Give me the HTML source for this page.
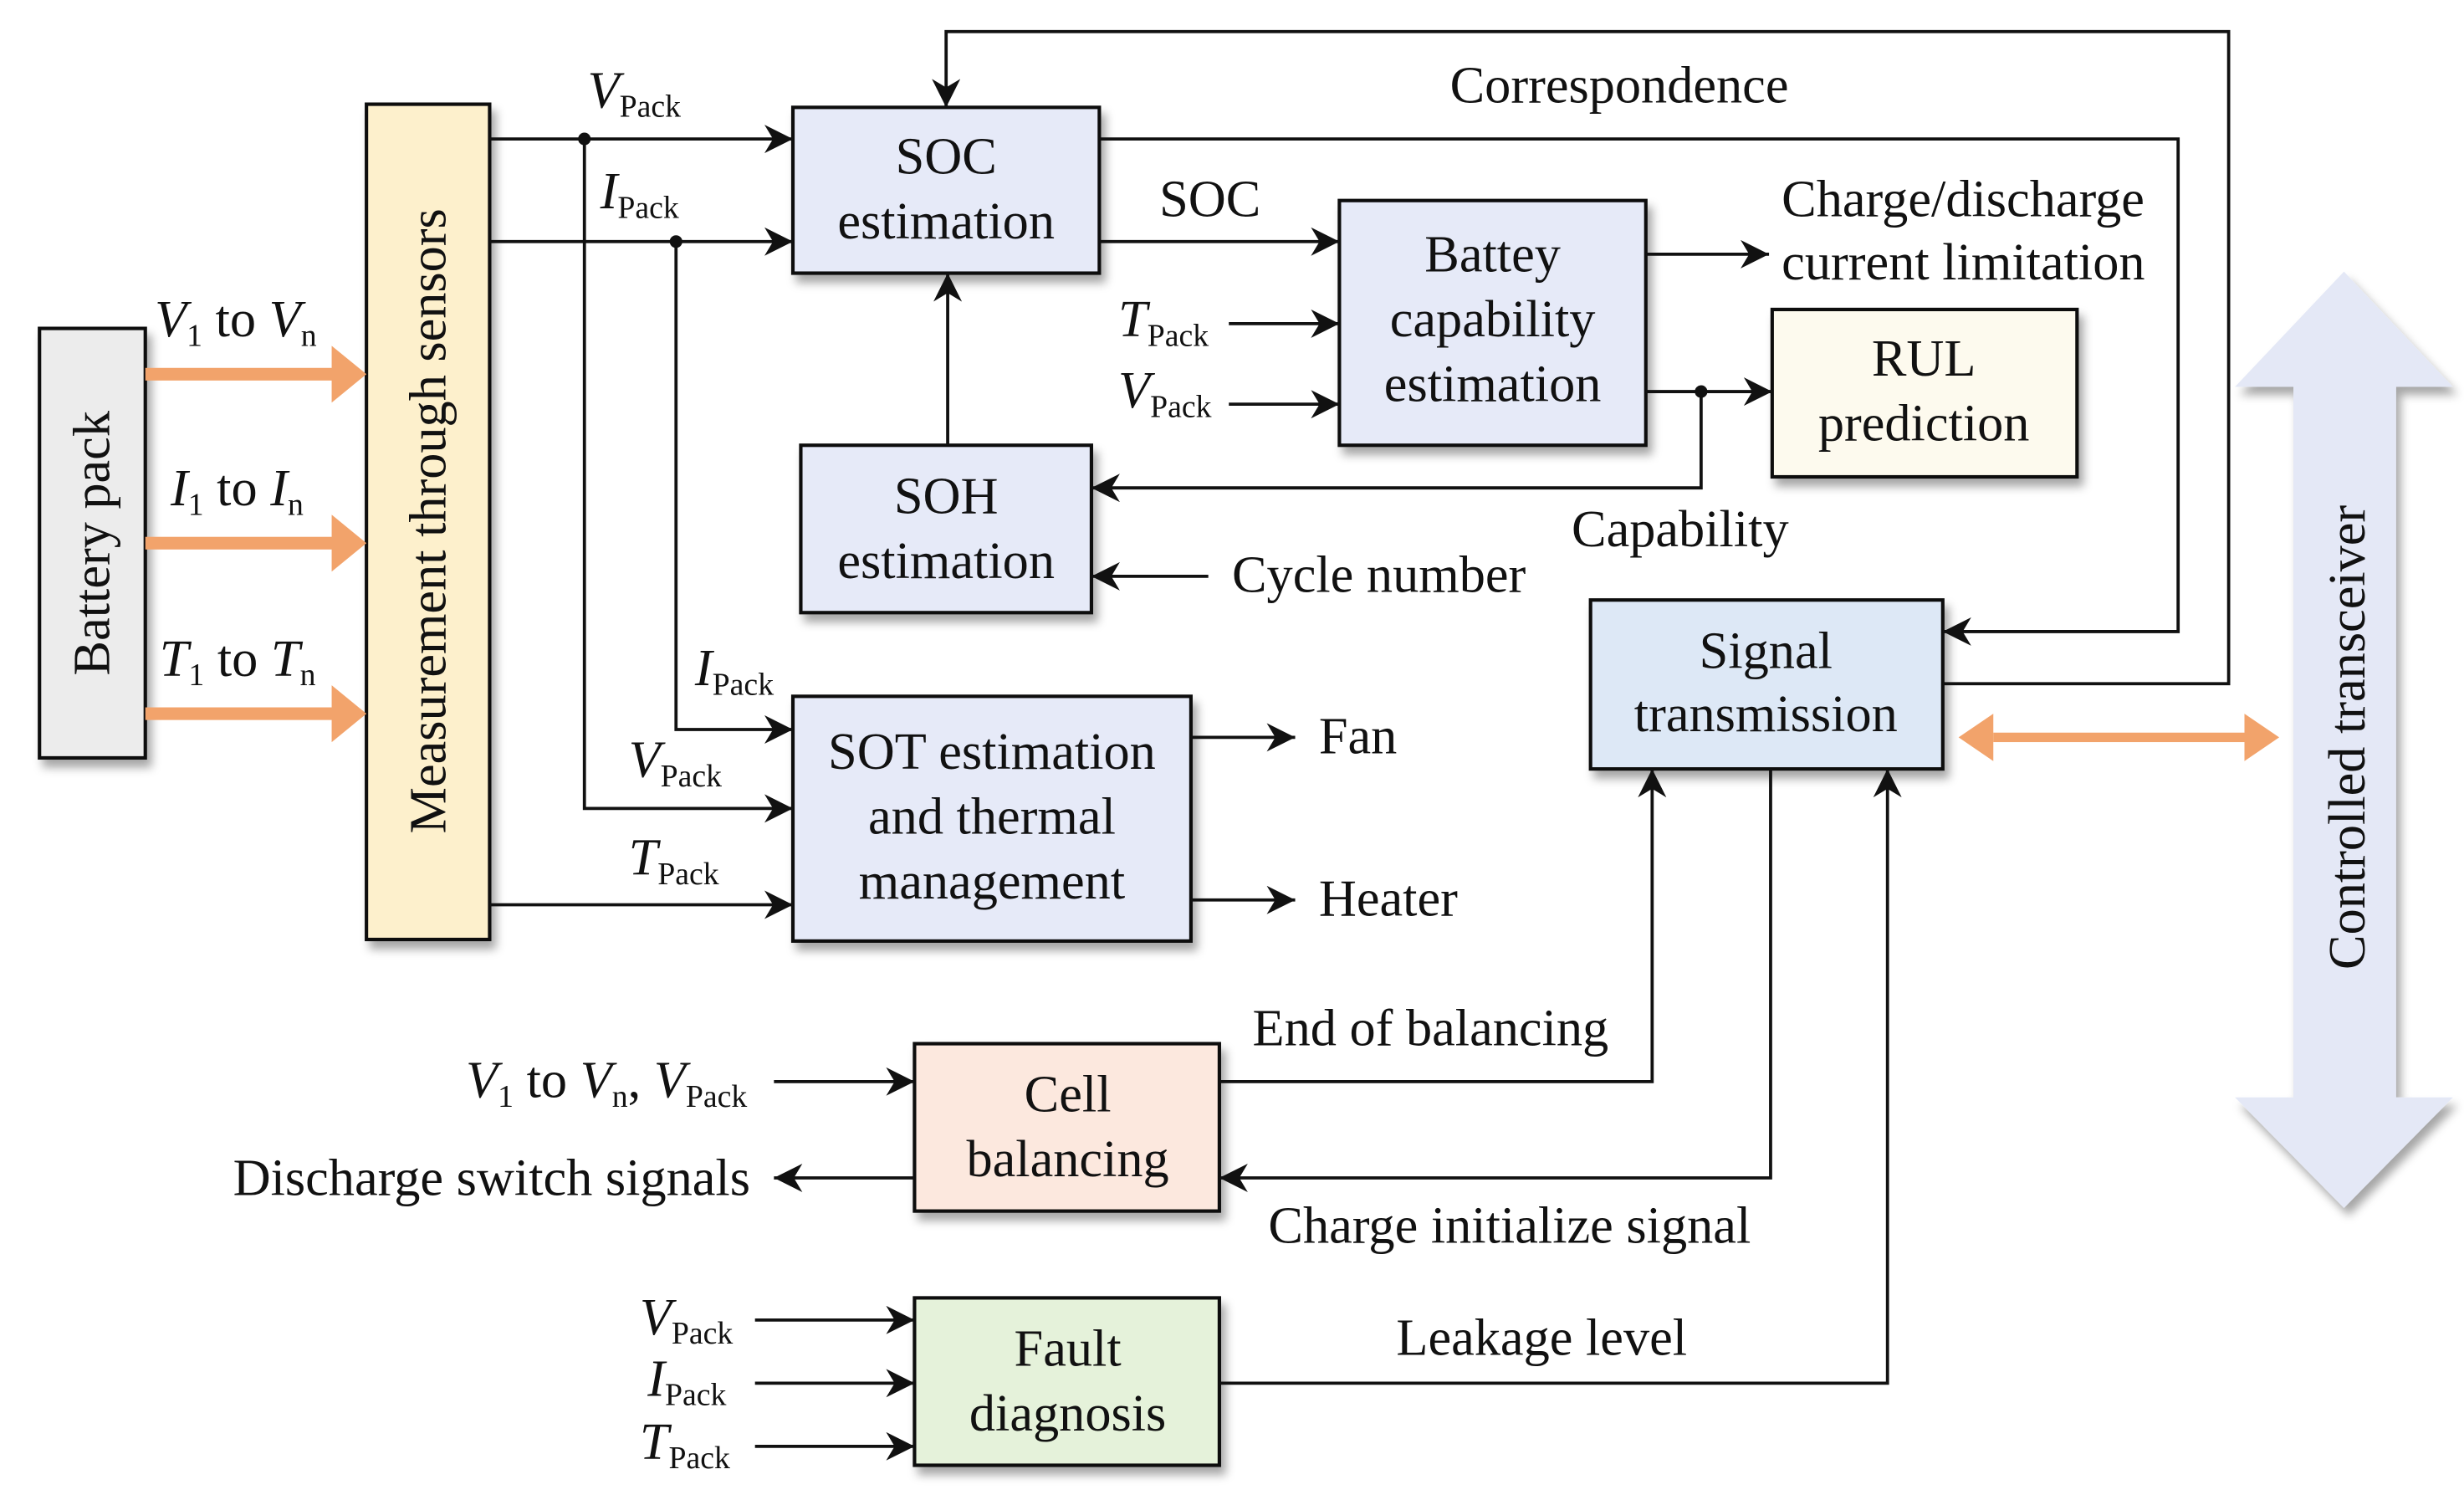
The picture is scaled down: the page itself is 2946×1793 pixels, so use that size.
<!DOCTYPE html>
<html><head><meta charset="utf-8"><style>
html,body{margin:0;padding:0;background:#fff;}
svg{display:block;}
svg text{font-family:"Liberation Serif","Times New Roman",Times,"DejaVu Serif",serif;fill:#111;}
</style></head><body>
<svg width="2946" height="1793" viewBox="0 0 1560 950" preserveAspectRatio="none" xmlns="http://www.w3.org/2000/svg" font-family="Liberation Serif, Times New Roman, DejaVu Serif, serif">
<defs>
<marker id="b" viewBox="0 0 10 10" refX="10" refY="5" markerWidth="18" markerHeight="18" markerUnits="userSpaceOnUse" orient="auto"><path d="M0,0 L10,5 L0,10 L3,5 z" fill="#111"/></marker>
<filter id="s" x="-10%" y="-10%" width="130%" height="130%"><feDropShadow dx="3" dy="5" stdDeviation="3" flood-color="#000" flood-opacity="0.35"/></filter>
</defs>
<g stroke="#111" stroke-width="2.2">
<rect x="25" y="208" width="67" height="272" fill="#ececec" filter="url(#s)"/>
<rect x="232" y="66" width="78" height="529" fill="#fdf0cc" filter="url(#s)"/>
<rect x="502" y="68" width="194" height="105" fill="#e6eaf8" filter="url(#s)"/>
<rect x="507" y="282" width="184" height="106" fill="#e6eaf8" filter="url(#s)"/>
<rect x="848" y="127" width="194" height="155" fill="#e6eaf8" filter="url(#s)"/>
<rect x="1122" y="196" width="193" height="106" fill="#fdfaee" filter="url(#s)"/>
<rect x="502" y="441" width="252" height="155" fill="#e6eaf8" filter="url(#s)"/>
<rect x="1007" y="380" width="223" height="107" fill="#dde8f6" filter="url(#s)"/>
<rect x="579" y="661" width="193" height="106" fill="#fce8de" filter="url(#s)"/>
<rect x="579" y="822" width="193" height="106" fill="#e5f2da" filter="url(#s)"/>
</g>
<g fill="#f2a36b">
<rect x="92" y="233" width="120" height="8"/><path d="M210,219 L232,237 L210,255 z"/>
<rect x="92" y="340" width="120" height="8"/><path d="M210,326 L232,344 L210,362 z"/>
<rect x="92" y="448" width="120" height="8"/><path d="M210,434 L232,452 L210,470 z"/>
<rect x="1262" y="464" width="160" height="6"/><path d="M1240,467 L1262,452 L1262,482 z"/><path d="M1443,467 L1421,452 L1421,482 z"/>
</g>
<path d="M1484,172 L1553,245 L1517,245 L1517,695 L1553,695 L1484,765 L1415,695 L1452,695 L1452,245 L1415,245 z" fill="#e4e8f6" filter="url(#s)"/>
<g stroke="#111" stroke-width="2" fill="none">
<line x1="310" y1="88" x2="502" y2="88" marker-end="url(#b)"/>
<line x1="310" y1="153" x2="502" y2="153" marker-end="url(#b)"/>
<polyline points="370,88 370,512 502,512" marker-end="url(#b)"/>
<polyline points="428,153 428,462 502,462" marker-end="url(#b)"/>
<line x1="310" y1="573" x2="502" y2="573" marker-end="url(#b)"/>
<line x1="600" y1="282" x2="600" y2="173" marker-end="url(#b)"/>
<line x1="696" y1="153" x2="848" y2="153" marker-end="url(#b)"/>
<line x1="778" y1="205" x2="848" y2="205" marker-end="url(#b)"/>
<line x1="778" y1="256" x2="848" y2="256" marker-end="url(#b)"/>
<line x1="1042" y1="161" x2="1120" y2="161" marker-end="url(#b)"/>
<line x1="1042" y1="248" x2="1122" y2="248" marker-end="url(#b)"/>
<polyline points="1077,248 1077,309 691,309" marker-end="url(#b)"/>
<line x1="765" y1="365" x2="691" y2="365" marker-end="url(#b)"/>
<polyline points="1230,433 1411,433 1411,20 599,20 599,68" marker-end="url(#b)"/>
<polyline points="696,88 1379,88 1379,400 1230,400" marker-end="url(#b)"/>
<line x1="754" y1="467" x2="820" y2="467" marker-end="url(#b)"/>
<line x1="754" y1="570" x2="820" y2="570" marker-end="url(#b)"/>
<line x1="490" y1="685" x2="579" y2="685" marker-end="url(#b)"/>
<line x1="579" y1="746" x2="490" y2="746" marker-end="url(#b)"/>
<polyline points="772,685 1046,685 1046,487" marker-end="url(#b)"/>
<polyline points="1121,487 1121,746 772,746" marker-end="url(#b)"/>
<line x1="478" y1="836" x2="579" y2="836" marker-end="url(#b)"/>
<line x1="478" y1="876" x2="579" y2="876" marker-end="url(#b)"/>
<line x1="478" y1="916" x2="579" y2="916" marker-end="url(#b)"/>
<polyline points="772,876 1195,876 1195,487" marker-end="url(#b)"/>
</g>
<g fill="#111"><circle cx="370" cy="88" r="4"/><circle cx="428" cy="153" r="4"/><circle cx="1077" cy="248" r="4"/></g>
<g font-size="33" text-anchor="middle">
<text transform="translate(69,344) rotate(-90)">Battery pack</text>
<text transform="translate(282,330) rotate(-90)">Measurement through sensors</text>
<text transform="translate(1497,467) rotate(-90)">Controlled transceiver</text>
<text x="599" y="110">SOC</text><text x="599" y="151">estimation</text>
<text x="599" y="325">SOH</text><text x="599" y="366">estimation</text>
<text x="945" y="172">Battey</text><text x="945" y="213">capability</text><text x="945" y="254">estimation</text>
<text x="1218" y="238">RUL</text><text x="1218" y="279">prediction</text>
<text x="628" y="487">SOT estimation</text><text x="628" y="528">and thermal</text><text x="628" y="569">management</text>
<text x="1118" y="423">Signal</text><text x="1118" y="463">transmission</text>
<text x="676" y="704">Cell</text><text x="676" y="745">balancing</text>
<text x="676" y="865">Fault</text><text x="676" y="906">diagnosis</text>
</g>
<g font-size="33">
<text x="918" y="65">Correspondence</text>
<text x="734" y="137">SOC</text>
<text x="1128" y="137">Charge/discharge</text>
<text x="1128" y="177">current limitation</text>
<text x="995" y="346">Capability</text>
<text x="780" y="375">Cycle number</text>
<text x="835" y="477">Fan</text>
<text x="835" y="580">Heater</text>
<text x="793" y="662">End of balancing</text>
<text x="803" y="787">Charge initialize signal</text>
<text x="884" y="858">Leakage level</text>
<text x="475" y="757" text-anchor="end">Discharge switch signals</text>
<text x="98" y="213"><tspan font-style="italic">V</tspan><tspan font-size="20" dy="6">1</tspan><tspan dy="-6"> to </tspan><tspan font-style="italic">V</tspan><tspan font-size="20" dy="6">n</tspan></text>
<text x="108" y="320"><tspan font-style="italic">I</tspan><tspan font-size="20" dy="6">1</tspan><tspan dy="-6"> to </tspan><tspan font-style="italic">I</tspan><tspan font-size="20" dy="6">n</tspan></text>
<text x="101" y="428"><tspan font-style="italic">T</tspan><tspan font-size="20" dy="6">1</tspan><tspan dy="-6"> to </tspan><tspan font-style="italic">T</tspan><tspan font-size="20" dy="6">n</tspan></text>
<text x="473" y="695" text-anchor="end"><tspan font-style="italic">V</tspan><tspan font-size="20" dy="6">1</tspan><tspan dy="-6"> to </tspan><tspan font-style="italic">V</tspan><tspan font-size="20" dy="6">n</tspan><tspan dy="-6">, </tspan><tspan font-style="italic">V</tspan><tspan font-size="20" dy="6">Pack</tspan></text>
</g>
<g font-size="33">
<text x="372" y="68"><tspan font-style="italic">V</tspan><tspan font-size="20" dy="6">Pack</tspan></text>
<text x="380" y="132"><tspan font-style="italic">I</tspan><tspan font-size="20" dy="6">Pack</tspan></text>
<text x="708" y="213"><tspan font-style="italic">T</tspan><tspan font-size="20" dy="6">Pack</tspan></text>
<text x="708" y="258"><tspan font-style="italic">V</tspan><tspan font-size="20" dy="6">Pack</tspan></text>
<text x="440" y="434"><tspan font-style="italic">I</tspan><tspan font-size="20" dy="6">Pack</tspan></text>
<text x="398" y="492"><tspan font-style="italic">V</tspan><tspan font-size="20" dy="6">Pack</tspan></text>
<text x="398" y="554"><tspan font-style="italic">T</tspan><tspan font-size="20" dy="6">Pack</tspan></text>
<text x="405" y="845"><tspan font-style="italic">V</tspan><tspan font-size="20" dy="6">Pack</tspan></text>
<text x="410" y="884"><tspan font-style="italic">I</tspan><tspan font-size="20" dy="6">Pack</tspan></text>
<text x="405" y="924"><tspan font-style="italic">T</tspan><tspan font-size="20" dy="6">Pack</tspan></text>
</g>
</svg>
</body></html>
